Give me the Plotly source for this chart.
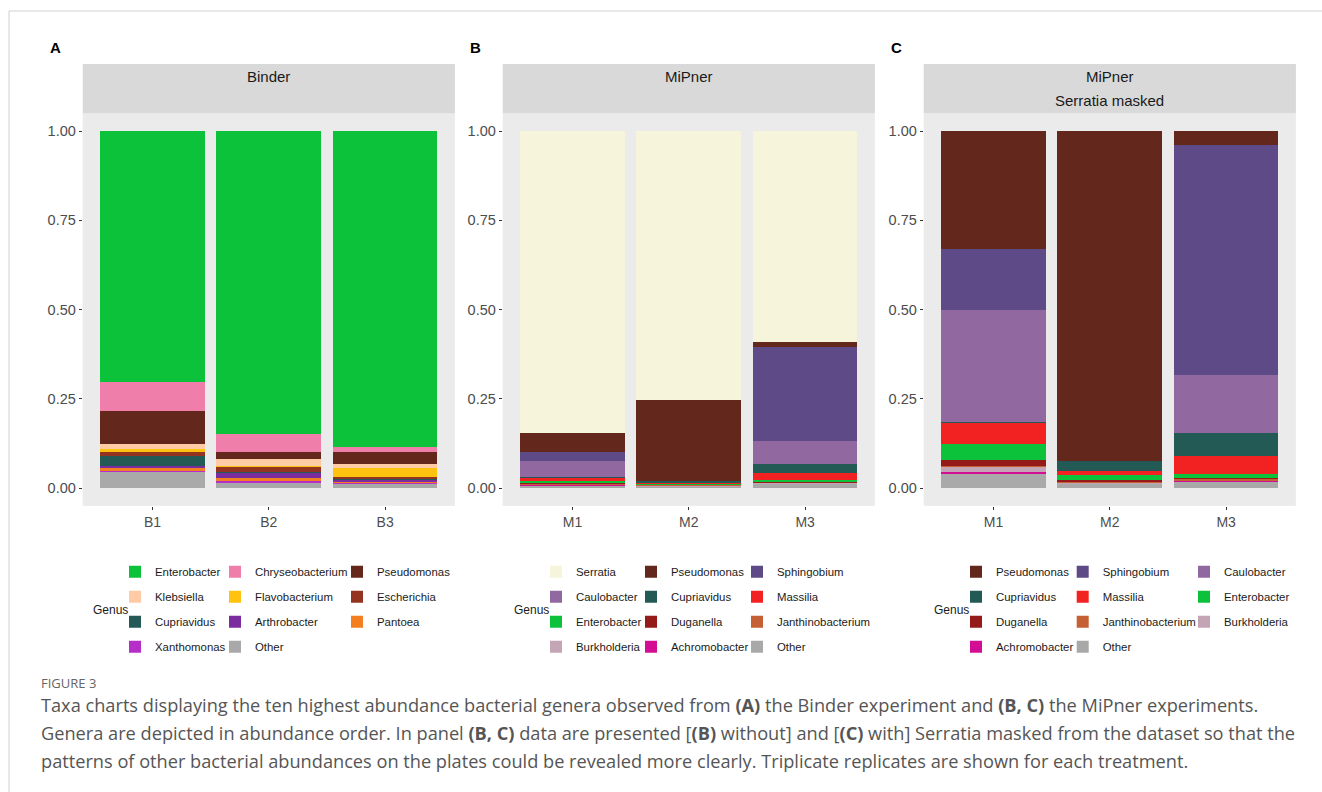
import plotly.graph_objects as go

W, H = 1322, 792

# ---------------- data ----------------
samples_A = ["B1", "B2", "B3"]
genera_A = ["Enterobacter", "Chryseobacterium", "Pseudomonas", "Klebsiella", "Flavobacterium",
            "Escherichia", "Cupriavidus", "Arthrobacter", "Pantoea", "Xanthomonas", "Other"]
B1 = [0.702, 0.083, 0.092, 0.013, 0.008, 0.013, 0.026, 0.005, 0.009, 0.002, 0.047]
B2 = [0.850, 0.050, 0.020, 0.018, 0.002, 0.015, 0.002, 0.016, 0.006, 0.006, 0.015]
B3 = [0.8865, 0.012, 0.035, 0.011, 0.026, 0.003, 0.002, 0.0065, 0.002, 0.004, 0.012]

samples_B = ["M1", "M2", "M3"]
genera_B = ["Serratia", "Pseudomonas", "Sphingobium", "Caulobacter", "Cupriavidus", "Massilia",
            "Enterobacter", "Duganella", "Janthinobacterium", "Burkholderia", "Achromobacter", "Other"]
M1_B = [0.847, 0.051, 0.026, 0.044, 0.003, 0.009, 0.006, 0.002, 0.002, 0.002, 0.001, 0.007]
M2_B = [0.7535, 0.226, 0.0, 0.0, 0.0065, 0.002, 0.002, 0.002, 0.002, 0.001, 0.0, 0.005]
M3_B = [0.592, 0.014, 0.263, 0.064, 0.026, 0.019, 0.004, 0.002, 0.002, 0.001, 0.001, 0.012]

samples_C = ["M1", "M2", "M3"]
genera_C = ["Pseudomonas", "Sphingobium", "Caulobacter", "Cupriavidus", "Massilia", "Enterobacter",
            "Duganella", "Janthinobacterium", "Burkholderia", "Achromobacter", "Other"]
M1_C = [0.331, 0.170, 0.314, 0.0015, 0.059, 0.045, 0.017, 0.004, 0.014, 0.0065, 0.038]
M2_C = [0.924, 0.0, 0.0, 0.028, 0.011, 0.015, 0.0056, 0.002, 0.002, 0.0, 0.0124]
M3_C = [0.039, 0.6445, 0.1615, 0.0645, 0.0515, 0.010, 0.004, 0.004, 0.001, 0.001, 0.019]

y_ticks = [0, 0.25, 0.5, 0.75, 1.0]

colors = {
    "Enterobacter": "#0CC23A", "Chryseobacterium": "#F07EAB", "Pseudomonas": "#64271B",
    "Klebsiella": "#FFCBA4", "Flavobacterium": "#FFC20F", "Escherichia": "#933320",
    "Cupriavidus": "#245A55", "Arthrobacter": "#7B2C9E", "Pantoea": "#F47F20",
    "Xanthomonas": "#B62EC8", "Other": "#A9A9A9", "Serratia": "#F6F5DC",
    "Sphingobium": "#5E4A86", "Caulobacter": "#9169A0", "Massilia": "#F22222",
    "Duganella": "#951A1A", "Janthinobacterium": "#C46033", "Burkholderia": "#C4A5B5",
    "Achromobacter": "#D30E95",
}

panels = [
    dict(samples=samples_A, genera=genera_A, vals=[B1, B2, B3], left=82.7, letter="A",
         strip=["Binder"], text_x=[155, 255, 377], genus_x=91),
    dict(samples=samples_B, genera=genera_B, vals=[M1_B, M2_B, M3_B], left=502.7, letter="B",
         strip=["MiPner"], text_x=[576, 671, 777], genus_x=511.7),
    dict(samples=samples_C, genera=genera_C, vals=[M1_C, M2_C, M3_C], left=923.7, letter="C",
         strip=["MiPner", "Serratia masked"], text_x=[996, 1102.7, 1224], genus_x=931.7),
]

def X(px):
    return px / W

def Y(py):
    return 1 - py / H

PANEL_W = 372.2
PANEL_TOP = 113.15
PANEL_BOT = 505.85
ROW1 = 571.7

fig = go.Figure()
layout = {}
shapes = []
annotations = []

for p, pan in enumerate(panels):
    ax = "" if p == 0 else str(p + 1)
    xref, yref = "x" + ax, "y" + ax
    genera = pan["genera"]
    # stacked bars: first trace at bottom -> add in reverse genus order
    for gi in reversed(range(len(genera))):
        g = genera[gi]
        col = gi % 3
        li = p * 3 + col + 1
        legname = "legend" if li == 1 else f"legend{li}"
        fig.add_trace(go.Bar(
            x=pan["samples"], y=[v[gi] for v in pan["vals"]], name=g,
            marker=dict(color=colors[g], line=dict(width=0)),
            xaxis=xref, yaxis=yref, legend=legname, legendgroup=f"{p}_{g}",
            legendrank=gi + 1, showlegend=True,
        ))
    # legends (3 columns)
    for col in range(3):
        li = p * 3 + col + 1
        legname = "legend" if li == 1 else f"legend{li}"
        layout[legname] = dict(
            x=X(pan["text_x"][col] - 40), y=Y(ROW1 - 14.5), xanchor="left", yanchor="top",
            orientation="v", tracegroupgap=6, bgcolor="rgba(0,0,0,0)", borderwidth=0,
            font=dict(family="Liberation Sans, Arial, sans-serif", size=11.4, color="#1a1a1a"),
            traceorder="grouped",
        )
    left = pan["left"]
    layout["xaxis" + ax] = dict(
        domain=[X(left), X(left + PANEL_W)], anchor=yref, type="category",
        range=[-0.6, 2.6], showgrid=False, zeroline=False, showline=False,
        ticks="outside", ticklen=3, tickcolor="#333333", tickwidth=1,
        tickfont=dict(family="Liberation Sans, Arial, sans-serif", size=14, color="#4D4D4D"),
    )
    layout["yaxis" + ax] = dict(
        domain=[Y(PANEL_BOT), Y(PANEL_TOP)], anchor=xref, range=[-0.05, 1.05],
        tickvals=y_ticks, tickformat=".2f", showgrid=False, zeroline=False, showline=False,
        ticks="outside", ticklen=3, tickcolor="#333333", tickwidth=1,
        tickfont=dict(family="Liberation Sans, Arial, sans-serif", size=14.5, color="#4D4D4D"),
    )
    # strip
    shapes.append(dict(type="rect", xref="paper", yref="paper", x0=X(left), x1=X(left + PANEL_W),
                       y0=Y(PANEL_TOP), y1=Y(64), fillcolor="#D9D9D9", line=dict(width=0),
                       layer="below"))
    for si, s in enumerate(pan["strip"]):
        annotations.append(dict(text=s, xref="paper", yref="paper", x=X(left + PANEL_W / 2),
                                y=Y(77 + 24 * si), xanchor="center", yanchor="middle",
                                showarrow=False,
                                font=dict(family="Liberation Sans, Arial, sans-serif", size=15,
                                          color="#1A1A1A")))
    # panel letter
    annotations.append(dict(text=f"<b>{pan['letter']}</b>", xref="paper", yref="paper",
                            x=X(left - 35), y=Y(48), xanchor="left", yanchor="middle",
                            showarrow=False,
                            font=dict(family="Liberation Sans, Arial, sans-serif", size=15,
                                      color="#000000")))
    # legend title
    annotations.append(dict(text="Genus", xref="paper", yref="paper", x=X(pan["genus_x"]),
                            y=Y(610), xanchor="left", yanchor="middle", showarrow=False,
                            font=dict(family="Liberation Sans, Arial, sans-serif", size=12,
                                      color="#1a1a1a")))

# frame lines
shapes.append(dict(type="line", xref="paper", yref="paper", x0=X(9), x1=1, y0=Y(11), y1=Y(11),
                   line=dict(color="#D0D0D0", width=1)))
shapes.append(dict(type="line", xref="paper", yref="paper", x0=X(9), x1=X(9), y0=Y(11), y1=0,
                   line=dict(color="#D0D0D0", width=1)))

cap_font = dict(family="Open Sans, Noto Sans, sans-serif", size=18.2, color="#555555")
annotations.append(dict(text="FIGURE 3", xref="paper", yref="paper", x=X(39), y=Y(683),
                        xanchor="left", yanchor="middle", showarrow=False,
                        font=dict(family="Open Sans, Noto Sans, sans-serif", size=13,
                                  color="#666666")))
caption = [
    "Taxa charts displaying the ten highest abundance bacterial genera observed from <b>(A)</b> the Binder experiment and <b>(B, C)</b> the MiPner experiments.",
    "Genera are depicted in abundance order. In panel <b>(B, C)</b> data are presented [<b>(B)</b> without] and [<b>(C)</b> with] Serratia masked from the dataset so that the",
    "patterns of other bacterial abundances on the plates could be revealed more clearly. Triplicate replicates are shown for each treatment.",
]
for i, line in enumerate(caption):
    annotations.append(dict(text=line, xref="paper", yref="paper", x=X(39), y=Y(705 + 28 * i),
                            xanchor="left", yanchor="middle", showarrow=False, font=cap_font))

fig.update_layout(
    width=W, height=H, margin=dict(l=0, r=0, t=0, b=0),
    paper_bgcolor="white", plot_bgcolor="#EBEBEB",
    barmode="stack", bargap=0.1,
    shapes=shapes, annotations=annotations,
    **layout,
)

fig.write_html("out.html")
